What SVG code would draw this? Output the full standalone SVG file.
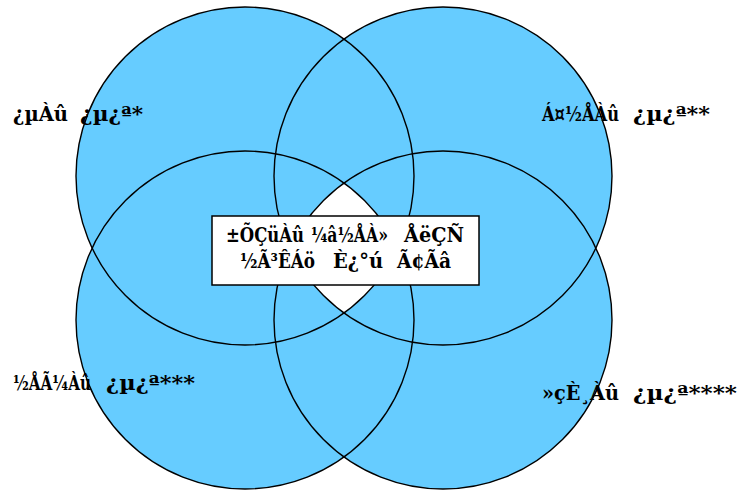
<svg xmlns="http://www.w3.org/2000/svg" width="740" height="491" viewBox="0 0 740 491">
<style>
.fill{fill:#66CCFF;stroke:none}
.ring{fill:none;stroke:#000;stroke-width:1.4}
.lbl{font-family:"DejaVu Serif Condensed","DejaVu Serif",serif;font-stretch:condensed;font-weight:bold;font-size:20px;fill:#000}
.box{fill:#fff;stroke:#000;stroke-width:1.5}
</style>
<rect width="740" height="491" fill="#fff"/>
<g id="fills">
<circle class="fill" cx="245" cy="176" r="169"/>
<circle class="fill" cx="443" cy="176" r="169"/>
<circle class="fill" cx="245" cy="320" r="169"/>
<circle class="fill" cx="443" cy="320" r="169"/>
<path d="M344,183.03 A169,169 0 0 1 397.9,248 A169,169 0 0 1 344,312.97 A169,169 0 0 1 290.1,248 A169,169 0 0 1 344,183.03 Z" fill="#fff"/>
</g>
<g id="spiritual"><circle class="ring" cx="245" cy="176" r="169"/></g>
<g id="mental"><circle class="ring" cx="443" cy="176" r="169"/></g>
<g id="physical"><circle class="ring" cx="245" cy="320" r="169"/></g>
<g id="social"><circle class="ring" cx="443" cy="320" r="169"/></g>
<g id="center">
<rect class="box" x="212" y="216" width="267" height="69"/>
<text class="lbl" x="226" y="242" textLength="78" lengthAdjust="spacingAndGlyphs">±ÕÇüÀû</text>
<text class="lbl" x="311" y="242" textLength="77" lengthAdjust="spacingAndGlyphs">¼â½ÅÀ»</text>
<text class="lbl" x="404" y="242" textLength="60" lengthAdjust="spacingAndGlyphs">ÅëÇÑ</text>
<text class="lbl" x="240" y="268" textLength="75" lengthAdjust="spacingAndGlyphs">½Ã³ÊÁö</text>
<text class="lbl" x="333" y="268" textLength="50" lengthAdjust="spacingAndGlyphs">È¿°ú</text>
<text class="lbl" x="397" y="268" textLength="54" lengthAdjust="spacingAndGlyphs">Ã¢Ãâ</text>
</g>
<g id="labels">
<text class="lbl" x="13" y="121" textLength="55" lengthAdjust="spacingAndGlyphs">¿µÀû</text>
<text class="lbl" x="80" y="121" textLength="63" lengthAdjust="spacingAndGlyphs">¿µ¿ª*</text>
<text class="lbl" x="542" y="121" textLength="77" lengthAdjust="spacingAndGlyphs">Á¤½ÅÀû</text>
<text class="lbl" x="633" y="121" textLength="77" lengthAdjust="spacingAndGlyphs">¿µ¿ª**</text>
<text class="lbl" x="13" y="390" textLength="78" lengthAdjust="spacingAndGlyphs">½ÅÃ¼Àû</text>
<text class="lbl" x="106" y="390" textLength="89" lengthAdjust="spacingAndGlyphs">¿µ¿ª***</text>
<text class="lbl" x="542" y="400" textLength="77" lengthAdjust="spacingAndGlyphs">»çÈ¸Àû</text>
<text class="lbl" x="633" y="400" textLength="104" lengthAdjust="spacingAndGlyphs">¿µ¿ª****</text>
</g>
</svg>
